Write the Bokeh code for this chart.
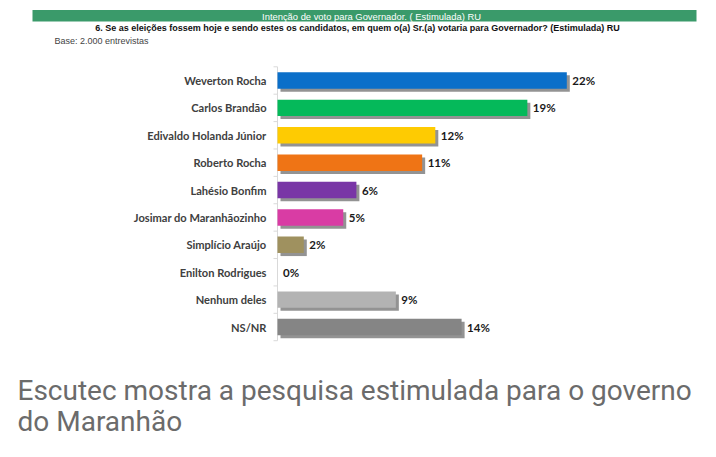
from bokeh.plotting import figure
from bokeh.models import Range1d, ColumnDataSource
from bokeh.core.properties import value
from bokeh.embed import file_html
from bokeh.resources import INLINE

# ---- data ----
categories = ["Weverton Rocha", "Carlos Brandão", "Edivaldo Holanda Júnior", "Roberto Rocha",
              "Lahésio Bonfim", "Josimar do Maranhãozinho", "Simplício Araújo",
              "Enilton Rodrigues", "Nenhum deles", "NS/NR"]
values = [22, 19, 12, 11, 6, 5, 2, 0, 9, 14]
colors = ["#0b6fc9", "#05b95a", "#fecb02", "#ef7415", "#7936a6", "#d93ca4", "#9f915f",
          "#ffffff", "#b3b3b3", "#858585"]
value_labels = [f"{v}%" for v in values]
banner_text = "Intenção de voto para Governador. ( Estimulada) RU"
subtitle_text = "6. Se as eleições fossem hoje e sendo estes os candidatos, em quem o(a) Sr.(a) votaria para Governador? (Estimulada) RU"
base_text = "Base: 2.000 entrevistas"
caption_lines = ["Escutec mostra a pesquisa estimulada para o governo", "do Maranhão"]

W, H = 700, 441
X0 = 277.0      # pixel of 0%
XS = 13.15      # px per %
Y0 = 80.0       # pixel of first bar centre
YS = 27.39      # px per row

def xd(px):
    return (px - X0) / XS

def yd(py):
    return (py - Y0) / YS

p = figure(width=W, height=H, output_backend="svg", toolbar_location=None,
           x_range=Range1d(xd(0), xd(W)), y_range=Range1d(yd(H), yd(0)),
           min_border=0, outline_line_color=None, background_fill_color="white",
           border_fill_color="white")
p.axis.visible = False
p.grid.visible = False

rows = list(range(len(categories)))
shift_x = 3 / XS
src = ColumnDataSource(dict(y=rows, v=values, c=colors, cat=categories, lab=value_labels,
                            zero=[0] * len(rows),
                            ys=[r + 3 / YS for r in rows],
                            ls=[shift_x] * len(rows),
                            rs=[v + shift_x if v > 0 else shift_x for v in values]))

# header
p.quad(left=xd(32), right=xd(696), top=yd(9.5), bottom=yd(21), fill_color="#3a9a6a",
       line_color=None)
p.text(x=[xd(371)], y=[yd(15.5)], text=[banner_text], text_color="white",
       text_font=value("'Liberation Sans Narrow', 'Liberation Sans'"), text_font_size="9.4px",
       text_align="center", text_baseline="middle")
p.text(x=[xd(357)], y=[yd(27.5)], text=[subtitle_text], text_color="#111111",
       text_font=value("'Liberation Sans Narrow', 'Liberation Sans'"), text_font_style="bold",
       text_font_size="9px", text_align="center", text_baseline="middle")
p.text(x=[xd(54)], y=[yd(40)], text=[base_text], text_color="#444444",
       text_font=value("'Liberation Sans Narrow', 'Liberation Sans'"), text_font_size="9px",
       text_align="left", text_baseline="middle")

# axis line and ticks
p.segment(x0=[0], x1=[0], y0=[-0.5], y1=[len(rows) - 0.5], line_color="#d9d9d9", line_width=1)
tick_y = [r - 0.5 for r in range(len(rows) + 1)]
p.segment(x0=[xd(X0 - 4)] * len(tick_y), x1=[0] * len(tick_y), y0=tick_y, y1=tick_y,
          line_color="#d9d9d9", line_width=1)

# shadows and bars
p.hbar(y="ys", left="ls", right="rs", height=0.6, source=src, fill_color="#6f6f6f",
       fill_alpha=0.75, line_color=None)
p.hbar(y="y", left="zero", right="v", height=0.6, source=src, fill_color="c", line_color=None)

# category labels
p.text(x="zero", y="y", text="cat", source=src, x_offset=-11, text_align="right",
       text_baseline="middle", text_font=value("Lato"), text_font_style="bold",
       text_font_size="11.1px", text_color="#404040")
# value labels
p.text(x="v", y="y", text="lab", source=src, x_offset=5.5, text_align="left",
       text_baseline="middle", text_font=value("Lato"), text_font_style="bold",
       text_font_size="11.5px", text_color="#1a1a1a")

# caption
p.text(x=[xd(17), xd(17)], y=[yd(390), yd(421)], text=caption_lines, text_color="#6b6b6b",
       text_font=value("Roboto"), text_font_size="28px", text_align="left",
       text_baseline="middle")

open("out.html", "w").write(file_html(p, INLINE))
